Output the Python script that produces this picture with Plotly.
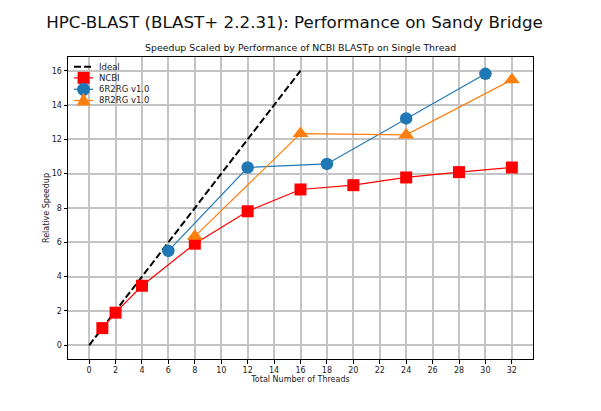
import plotly.graph_objects as go

# thread counts and relative speedup
ideal_x = [0, 16]
ideal_y = [0, 16]

ncbi_threads = [1, 2, 4, 8, 12, 16, 20, 24, 28, 32]
ncbi_speedup = [1.0, 1.9, 3.47, 5.92, 7.81, 9.08, 9.33, 9.78, 10.09, 10.36]

r6_threads = [6, 12, 18, 24, 30]
r6_speedup = [5.5, 10.36, 10.57, 13.22, 15.82]

r8_threads = [8, 16, 24, 32]
r8_speedup = [6.35, 12.34, 12.26, 15.47]

x_ticks = list(range(0, 33, 2))
y_ticks = list(range(0, 17, 2))

series_names = ["Ideal", "NCBI", "6R2RG v1.0", "8R2RG v1.0"]
series_colors = ["black", "#ff0000", "#1f77b4", "#ff7f0e"]
series_symbols = [None, "square", "circle", "triangle"]

FONT = "DejaVu Sans"

fig = go.Figure()

fig.add_trace(go.Scatter(x=ideal_x, y=ideal_y, mode="lines", name=series_names[0],
                         line=dict(color=series_colors[0], width=2, dash="7px,3px")))
fig.add_trace(go.Scatter(x=ncbi_threads, y=ncbi_speedup, mode="lines+markers", name=series_names[1],
                         line=dict(color=series_colors[1], width=1.2),
                         marker=dict(symbol="square", size=12, color=series_colors[1])))
fig.add_trace(go.Scatter(x=r6_threads, y=r6_speedup, mode="lines+markers", name=series_names[2],
                         line=dict(color=series_colors[2], width=1.2),
                         marker=dict(symbol="circle", size=12.5, color=series_colors[2])))
fig.add_trace(go.Scatter(x=r8_threads, y=r8_speedup, mode="lines+markers", name=series_names[3],
                         line=dict(color=series_colors[3], width=1.2),
                         marker=dict(symbol="triangle-up", size=14, color=series_colors[3])))
fig.update_traces(showlegend=False)

# compact matplotlib-like legend drawn with shapes + text
shapes = []
annotations = []
row_y = [0.968, 0.931, 0.893, 0.856]
for name, color, sym, yy in zip(series_names, series_colors, series_symbols, row_y):
    if sym is None:
        shapes.append(dict(type="line", xref="paper", yref="paper", x0=0.013, x1=0.054, y0=yy, y1=yy,
                           line=dict(color=color, width=2, dash="7px,3px")))
    else:
        shapes.append(dict(type="line", xref="paper", yref="paper", x0=0.013, x1=0.054, y0=yy, y1=yy,
                           line=dict(color=color, width=1.2)))
        common = dict(xref="paper", yref="paper", xsizemode="pixel", ysizemode="pixel",
                      xanchor=0.0335, yanchor=yy, fillcolor=color, line=dict(width=0))
        if sym == "square":
            shapes.append(dict(type="rect", x0=-6, x1=6, y0=-6, y1=6, **common))
        elif sym == "circle":
            shapes.append(dict(type="circle", x0=-6.5, x1=6.5, y0=-6.5, y1=6.5, **common))
        else:
            shapes.append(dict(type="path", path="M -7,-5 L 7,-5 L 0,8 Z", **common))
    annotations.append(dict(text=name, xref="paper", yref="paper", x=0.062, y=yy,
                            xanchor="left", yanchor="middle", showarrow=False,
                            font=dict(family=FONT, size=8.5, color="#222")))

annotations.append(dict(text="Speedup Scaled by Performance of NCBI BLASTp on Single Thread",
                        xref="paper", yref="paper", x=0.5, y=1.0, xanchor="center", yanchor="bottom",
                        showarrow=False, yshift=2, font=dict(family=FONT, size=9.4, color="#111")))

axis_common = dict(
    showgrid=True, gridcolor="#c4c4c4", gridwidth=1.5,
    showline=True, linecolor="black", linewidth=1, mirror=True,
    ticks="outside", ticklen=3.5, tickcolor="black",
    tickfont=dict(family=FONT, size=8, color="#222"),
    zeroline=False,
)

fig.update_xaxes(range=[-1.6, 33.6], tickvals=x_ticks,
                 title=dict(text="Total Number of Threads", font=dict(family=FONT, size=8, color="#222"), standoff=0),
                 **axis_common)
fig.update_yaxes(range=[-0.8, 16.8], tickvals=y_ticks,
                 title=dict(text="Relative Speedup", font=dict(family=FONT, size=8, color="#222"), standoff=0),
                 **axis_common)

fig.update_layout(
    width=601, height=411,
    margin=dict(l=60, r=76, t=49, b=60, autoexpand=False),
    paper_bgcolor="white", plot_bgcolor="white",
    font=dict(family=FONT, color="#222"),
    showlegend=False,
    title=dict(text="HPC-BLAST (BLAST+ 2.2.31): Performance on Sandy Bridge",
               x=0.4767, xanchor="center", y=0.966, yanchor="middle",
               font=dict(family=FONT, size=16.7, color="#111")),
    shapes=shapes,
    annotations=annotations,
)

fig.write_html("out.html")
